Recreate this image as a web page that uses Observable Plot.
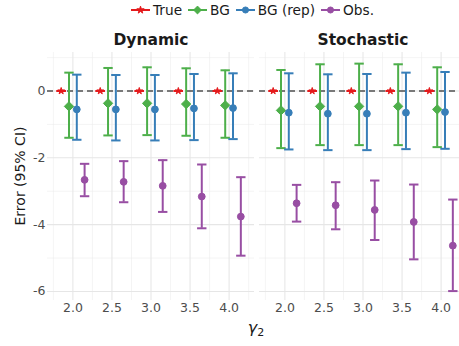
<!DOCTYPE html>
<html>
<head>
<meta charset="utf-8">
<script src="https://cdn.jsdelivr.net/npm/d3@7"></script>
<script src="https://cdn.jsdelivr.net/npm/@observablehq/plot@0.6"></script>
<style>
  html, body { margin: 0; padding: 0; background: #fff; overflow: hidden; }
  #wrap { position: relative; width: 459px; height: 346px; font-family: "DejaVu Sans", sans-serif; }
  #legend { position: absolute; left: 131px; top: 2px; display: flex; align-items: center; font-size: 13.7px; color: #1a1a1a; }
  .item { display: flex; align-items: center; margin-right: 6px; }
  .item svg { margin-right: 3px; }
  #ylab { position: absolute; left: 20px; top: 176px; transform: translate(-50%, -50%) rotate(-90deg); font-size: 14px; color: #1a1a1a; white-space: nowrap; }
  #xlab { position: absolute; left: 256px; top: 328px; transform: translate(-50%, -50%); font-size: 16px; color: #1a1a1a; white-space: nowrap; }
  #xlab sub { font-size: 11px; font-style: normal; vertical-align: -3px; }
</style>
</head>
<body>
<div id="wrap">
  <div id="legend"></div>
  <div id="ylab">Error (95% CI)</div>
  <div id="xlab"><i>γ</i><sub>2</sub></div>
</div>
<script>
// ---- data ----
const gamma = [2.0, 2.5, 3.0, 3.5, 4.0];
const panels = ["Dynamic", "Stochastic"];
const seriesNames = ["True", "BG", "BG (rep)", "Obs."];
const xTicks = [2.0, 2.5, 3.0, 3.5, 4.0];
const yTicks = [0, -2, -4, -6];

// Dynamic
const dynTrueMean = [0, 0, 0, 0, 0];
const dynTrueLo = [0, 0, 0, 0, 0];
const dynTrueHi = [0, 0, 0, 0, 0];
const dynBGMean = [-0.46, -0.37, -0.37, -0.39, -0.43];
const dynBGLo = [-1.40, -1.33, -1.32, -1.34, -1.40];
const dynBGHi = [0.55, 0.69, 0.71, 0.68, 0.62];
const dynRepMean = [-0.55, -0.55, -0.55, -0.52, -0.51];
const dynRepLo = [-1.46, -1.48, -1.48, -1.47, -1.44];
const dynRepHi = [0.49, 0.48, 0.48, 0.51, 0.53];
const dynObsMean = [-2.66, -2.72, -2.84, -3.16, -3.76];
const dynObsLo = [-3.15, -3.33, -3.62, -4.11, -4.93];
const dynObsHi = [-2.18, -2.10, -2.07, -2.20, -2.58];

// Stochastic
const stoTrueMean = [0, 0, 0, 0, 0];
const stoTrueLo = [0, 0, 0, 0, 0];
const stoTrueHi = [0, 0, 0, 0, 0];
const stoBGMean = [-0.58, -0.46, -0.46, -0.46, -0.55];
const stoBGLo = [-1.71, -1.62, -1.62, -1.62, -1.68];
const stoBGHi = [0.63, 0.80, 0.82, 0.80, 0.71];
const stoRepMean = [-0.65, -0.68, -0.68, -0.65, -0.63];
const stoRepLo = [-1.75, -1.77, -1.77, -1.74, -1.73];
const stoRepHi = [0.53, 0.50, 0.51, 0.55, 0.57];
const stoObsMean = [-3.36, -3.42, -3.56, -3.92, -4.63];
const stoObsLo = [-3.91, -4.14, -4.46, -5.04, -5.99];
const stoObsHi = [-2.81, -2.73, -2.68, -2.80, -3.25];

// ---- styles ----
const colors = {"True": "#E41A1C", "BG": "#4DAF4A", "BG (rep)": "#377EB8", "Obs.": "#984EA3"};
const symbols = {"True": "star", "BG": "diamond2", "BG (rep)": "circle", "Obs.": "circle"};
const radii = {"True": 2.1, "BG": 4.2, "BG (rep)": 3.4, "Obs.": 3.4};
const dodge = {"True": -0.15, "BG": -0.05, "BG (rep)": 0.05, "Obs.": 0.15};
const capHalf = 0.06;

const table = {
  "Dynamic": {
    "True": [dynTrueMean, dynTrueLo, dynTrueHi],
    "BG": [dynBGMean, dynBGLo, dynBGHi],
    "BG (rep)": [dynRepMean, dynRepLo, dynRepHi],
    "Obs.": [dynObsMean, dynObsLo, dynObsHi]
  },
  "Stochastic": {
    "True": [stoTrueMean, stoTrueLo, stoTrueHi],
    "BG": [stoBGMean, stoBGLo, stoBGHi],
    "BG (rep)": [stoRepMean, stoRepLo, stoRepHi],
    "Obs.": [stoObsMean, stoObsLo, stoObsHi]
  }
};

const rows = [];
for (const p of panels) for (const s of seriesNames) {
  const [m, lo, hi] = table[p][s];
  gamma.forEach((g, i) => rows.push({panel: p, series: s, gamma: g, x: g + dodge[s], mean: m[i], lo: lo[i], hi: hi[i]}));
}

const marks = [
  Plot.ruleX([1.75, 2.25, 2.75, 3.25, 3.75, 4.25], {stroke: "#ebebeb", strokeWidth: 0.55}),
  Plot.ruleY([1, -1, -3, -5], {stroke: "#ebebeb", strokeWidth: 0.55}),
  Plot.ruleX(xTicks, {stroke: "#e6e6e6", strokeWidth: 1.07}),
  Plot.ruleY(yTicks, {stroke: "#e6e6e6", strokeWidth: 1.07}),
  Plot.axisX(xTicks, {tickSize: 0, tickPadding: 3, tickFormat: d3.format(".1f"), fontSize: 12.5, fill: "#4d4d4d", label: null}),
  Plot.axisY(yTicks, {tickSize: 0, tickPadding: 2, tickFormat: d => String(d), fontSize: 12.5, fill: "#4d4d4d", label: null}),
  Plot.ruleY([0], {stroke: "#000", strokeWidth: 1.2, strokeDasharray: "6,4"}),
  Plot.text(panels, {fx: d => d, text: d => d, frameAnchor: "top", lineAnchor: "bottom", dy: -8, fontSize: 15.5, fontWeight: "bold", fill: "#1a1a1a"})
];

for (const s of seriesNames) {
  const d = rows.filter(r => r.series === s);
  marks.push(
    Plot.ruleX(d, {fx: "panel", x: "x", y1: "lo", y2: "hi", stroke: colors[s], strokeWidth: 2}),
    Plot.link(d, {fx: "panel", x1: r => r.x - capHalf, x2: r => r.x + capHalf, y1: "lo", y2: "lo", stroke: colors[s], strokeWidth: 2}),
    Plot.link(d, {fx: "panel", x1: r => r.x - capHalf, x2: r => r.x + capHalf, y1: "hi", y2: "hi", stroke: colors[s], strokeWidth: 2}),
    Plot.dot(d, {fx: "panel", x: "x", y: "mean", symbol: symbols[s], r: radii[s], fill: colors[s], stroke: colors[s], strokeWidth: 1})
  );
}

const chart = Plot.plot({
  width: 459,
  height: 346,
  marginLeft: 46.5,
  marginRight: -7.5,
  marginTop: 52,
  marginBottom: 46,
  style: {fontFamily: "DejaVu Sans", background: "transparent", overflow: "hidden"},
  fx: {domain: panels, paddingInner: 0.0235, paddingOuter: 0, axis: null},
  x: {domain: [1.675, 4.325], axis: null},
  y: {domain: [-6.272, 1.153], axis: null},
  marks
});
chart.style.position = "absolute";
chart.style.left = "0";
chart.style.top = "0";
const wrap = document.getElementById("wrap");
wrap.insertBefore(chart, wrap.firstChild);

// legend
const legend = document.getElementById("legend");
for (const s of seriesNames) {
  const item = document.createElement("div");
  item.className = "item";
  const sw = d3.create("svg").attr("width", 19).attr("height", 14);
  sw.append("line").attr("x1", 0).attr("x2", 19).attr("y1", 7).attr("y2", 7).attr("stroke", colors[s]).attr("stroke-width", 2);
  const symMap = {"star": d3.symbolStar, "diamond2": d3.symbolDiamond2, "circle": d3.symbolCircle};
  const size = Math.PI * radii[s] * radii[s] * (symbols[s] === "diamond2" ? 0.7 : symbols[s] === "circle" ? 0.8 : 1.2);
  sw.append("path").attr("transform", "translate(9.5,7)").attr("d", d3.symbol(symMap[symbols[s]], size)()).attr("fill", colors[s]).attr("stroke", colors[s]);
  item.appendChild(sw.node());
  const t = document.createElement("span");
  t.textContent = s;
  item.appendChild(t);
  legend.appendChild(item);
}
</script>
</body>
</html>
